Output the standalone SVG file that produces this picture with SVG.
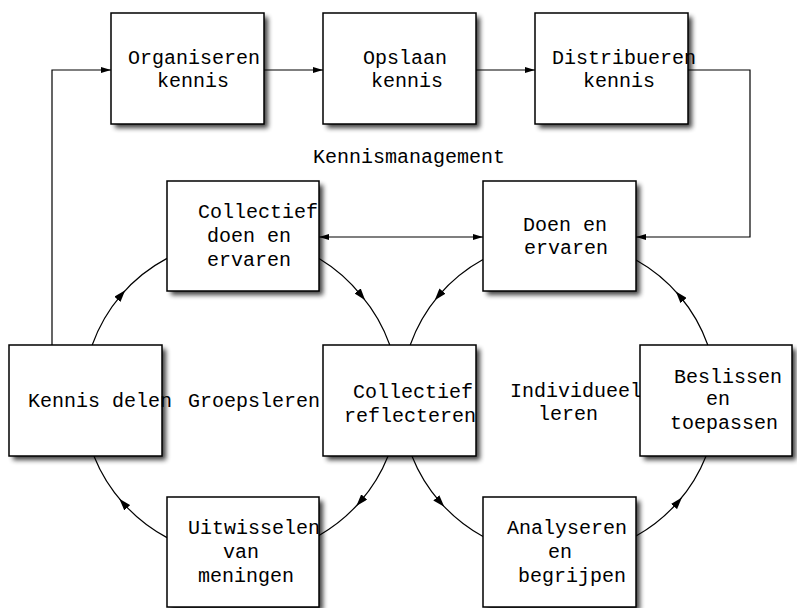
<svg xmlns="http://www.w3.org/2000/svg" width="797" height="608" viewBox="0 0 797 608">
<defs>
<style>
.box{fill:#fff;stroke:#000;stroke-width:1.5}
.sh{fill:#000;opacity:0.75;filter:url(#blur)}
.t{font-family:"Liberation Mono","Courier New",monospace;font-size:20px;fill:#000}
.c{fill:none;stroke:#000;stroke-width:1.2}
</style>
<filter id="blur" x="-10%" y="-10%" width="120%" height="120%"><feGaussianBlur stdDeviation="2.8"/></filter>
<marker id="ah" viewBox="0 0 10 6" refX="10" refY="3" markerWidth="10" markerHeight="6" markerUnits="userSpaceOnUse" orient="auto"><path d="M0,0 L10,3 L0,6 Z" fill="#000"/></marker>
<marker id="ahs" viewBox="0 0 10 6" refX="0" refY="3" markerWidth="10" markerHeight="6" markerUnits="userSpaceOnUse" orient="auto"><path d="M10,0 L0,3 L10,6 Z" fill="#000"/></marker>
<marker id="am" viewBox="0 0 12 8" refX="6" refY="4" markerWidth="12" markerHeight="8" markerUnits="userSpaceOnUse" orient="auto"><path d="M0,0 L12,4 L0,8 Z" fill="#000"/></marker>
</defs>
<rect width="797" height="608" fill="#fff"/>
<g id="connectors">
<path class="c" d="M52,345 L52,70 L111,70" marker-end="url(#ah)"/>
<path class="c" d="M264,70 L323,70" marker-end="url(#ah)"/>
<path class="c" d="M476,70 L535,70" marker-end="url(#ah)"/>
<path class="c" d="M688,70 L750,70 L750,237 L636,237" marker-end="url(#ah)"/>
<path class="c" d="M319,237 L483,237" marker-start="url(#ahs)" marker-end="url(#ah)"/>
<path class="c" d="M92.2,345 A158,158 0 0 1 121.3,294.8 A158,158 0 0 1 167,258.4" marker-mid="url(#am)"/>
<path class="c" d="M319,258.4 A158,158 0 0 1 361.4,295.6 A158,158 0 0 1 389.8,345" marker-mid="url(#am)"/>
<path class="c" d="M388.1,456 A158,158 0 0 1 360.3,501.5 A158,158 0 0 1 319,535.4" marker-mid="url(#am)"/>
<path class="c" d="M167,537.6 A158,158 0 0 1 123.3,503.3 A158,158 0 0 1 93.9,456" marker-mid="url(#am)"/>
<path class="c" d="M483,259.5 A158,158 0 0 0 438.6,295.6 A158,158 0 0 0 410.2,345" marker-mid="url(#am)"/>
<path class="c" d="M411.9,456 A158,158 0 0 0 440.3,502.3 A158,158 0 0 0 483,536.5" marker-mid="url(#am)"/>
<path class="c" d="M636,536 A158,158 0 0 0 678,502 A158,158 0 0 0 706.1,456" marker-mid="url(#am)"/>
<path class="c" d="M707.8,345 A158,158 0 0 0 679.7,296 A158,158 0 0 0 636,260" marker-mid="url(#am)"/>
</g>
<g id="organiseren">
<rect class="sh" x="115" y="17" width="153" height="111"/>
<rect class="box" x="111" y="13" width="153" height="111"/>
<text class="t" x="128" y="64">Organiseren</text><text class="t" x="157" y="87">kennis</text>
</g>
<g id="opslaan">
<rect class="sh" x="327" y="17" width="153" height="111"/>
<rect class="box" x="323" y="13" width="153" height="111"/>
<text class="t" x="363" y="64">Opslaan</text><text class="t" x="371" y="87">kennis</text>
</g>
<g id="distribueren">
<rect class="sh" x="539" y="17" width="153" height="111"/>
<rect class="box" x="535" y="13" width="153" height="111"/>
<text class="t" x="552" y="64">Distribueren</text><text class="t" x="583" y="87">kennis</text>
</g>
<g id="kennismanagement">
<text class="t" x="313" y="163">Kennismanagement</text>
</g>
<g id="collectief-doen">
<rect class="sh" x="171" y="185" width="152" height="110"/>
<rect class="box" x="167" y="181" width="152" height="110"/>
<text class="t" x="198" y="218">Collectief</text><text class="t" x="207" y="242">doen en</text><text class="t" x="207" y="266">ervaren</text>
</g>
<g id="doen-ervaren">
<rect class="sh" x="487" y="185" width="153" height="110"/>
<rect class="box" x="483" y="181" width="153" height="110"/>
<text class="t" x="523" y="231">Doen en</text><text class="t" x="524" y="254">ervaren</text>
</g>
<g id="kennis-delen">
<rect class="sh" x="13" y="349" width="153" height="111"/>
<rect class="box" x="9" y="345" width="153" height="111"/>
<text class="t" x="28" y="407">Kennis delen</text>
</g>
<g id="groepsleren">
<text class="t" x="188" y="407">Groepsleren</text>
</g>
<g id="collectief-reflecteren">
<rect class="sh" x="327" y="349" width="153" height="111"/>
<rect class="box" x="323" y="345" width="153" height="111"/>
<text class="t" x="353" y="398">Collectief</text><text class="t" x="344" y="422">reflecteren</text>
</g>
<g id="individueel-leren">
<text class="t" x="510" y="397">Individueel</text><text class="t" x="538" y="420">leren</text>
</g>
<g id="beslissen">
<rect class="sh" x="644" y="349" width="152" height="111"/>
<rect class="box" x="640" y="345" width="152" height="111"/>
<text class="t" x="674" y="383">Beslissen</text><text class="t" x="706" y="405">en</text><text class="t" x="670" y="429">toepassen</text>
</g>
<g id="uitwisselen">
<rect class="sh" x="171" y="501" width="152" height="110"/>
<rect class="box" x="167" y="497" width="152" height="110"/>
<text class="t" x="188" y="534">Uitwisselen</text><text class="t" x="223" y="558">van</text><text class="t" x="198" y="582">meningen</text>
</g>
<g id="analyseren">
<rect class="sh" x="487" y="501" width="153" height="110"/>
<rect class="box" x="483" y="497" width="153" height="110"/>
<text class="t" x="507" y="534">Analyseren</text><text class="t" x="548" y="558">en</text><text class="t" x="518" y="582">begrijpen</text>
</g>
</svg>
